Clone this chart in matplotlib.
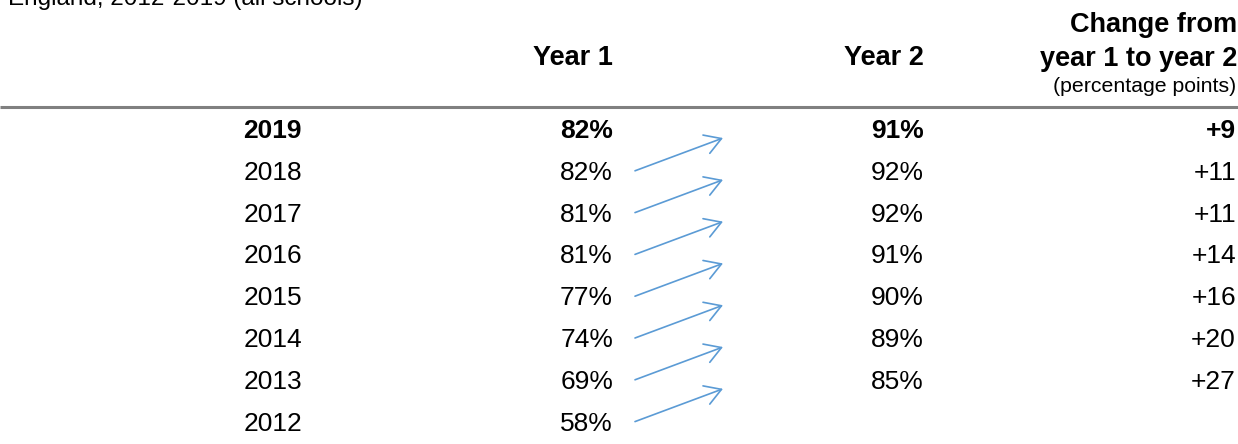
import matplotlib.pyplot as plt
from matplotlib.patches import FancyArrowPatch

plt.rcParams['font.family'] = ['Liberation Sans', 'DejaVu Sans']

years = [2019, 2018, 2017, 2016, 2015, 2014, 2013, 2012]
year1 = [82, 82, 81, 81, 77, 74, 69, 58]
year2 = [91, 92, 92, 91, 90, 89, 85, None]
change = [9, 11, 11, 14, 16, 20, 27, None]

title = 'England, 2012-2019 (all schools)'

# layout (pixel-like coords, y down)
W, H = 1238, 444
x_year, x_y1, x_y2, x_chg = 302, 613, 924, 1236
row0, row_h = 131, 41.8
fs = 19
fs_head = 19.5
arrow_col = '#5B9BD5'

fig = plt.figure(figsize=(W / 100, H / 100), dpi=100)
ax = fig.add_axes([0, 0, 1, 1])
ax.set_xlim(0, W)
ax.set_ylim(H, 0)
ax.axis('off')

# title sits mostly above the top edge, as in the source
ax.text(8, 5, title, fontsize=17.5, va='baseline', ha='left')

# headers
ax.text(x_y1, 58, 'Year 1', fontsize=fs_head, fontweight='bold', ha='right', va='center')
ax.text(x_y2, 58, 'Year 2', fontsize=fs_head, fontweight='bold', ha='right', va='center')
ax.text(x_chg + 1, 25, 'Change from', fontsize=fs_head, fontweight='bold', ha='right', va='center')
ax.text(x_chg + 1, 59, 'year 1 to year 2', fontsize=fs_head, fontweight='bold', ha='right', va='center')
ax.text(x_chg, 86, '(percentage points)', fontsize=15.3, ha='right', va='center')
ax.plot([0, W], [107, 107], color='#808080', lw=2.2, solid_capstyle='butt')

for i, yr in enumerate(years):
    y = row0 + i * row_h
    fw = 'bold' if i == 0 else 'normal'
    ax.text(x_year, y, str(yr), fontsize=fs, fontweight=fw, ha='right', va='center')
    ax.text(x_y1, y, '%d%%' % year1[i], fontsize=fs, fontweight=fw, ha='right', va='center')
    if year2[i] is not None:
        ax.text(x_y2, y, '%d%%' % year2[i], fontsize=fs, fontweight=fw, ha='right', va='center')
    if change[i] is not None:
        ax.text(x_chg, y, '+%d' % change[i], fontsize=fs, fontweight=fw, ha='right', va='center')
    # arrow from year 1 of this cohort to year 2 of the next row up
    if i > 0:
        a = FancyArrowPatch((x_y1 + 22, y - 2), (x_y1 + 110, y - row_h + 7),
                            arrowstyle='->,head_length=0.58,head_width=0.35',
                            mutation_scale=20, color=arrow_col, lw=1.2,
                            shrinkA=0, shrinkB=0)
        ax.add_patch(a)

fig.savefig('out.png', dpi=100)
